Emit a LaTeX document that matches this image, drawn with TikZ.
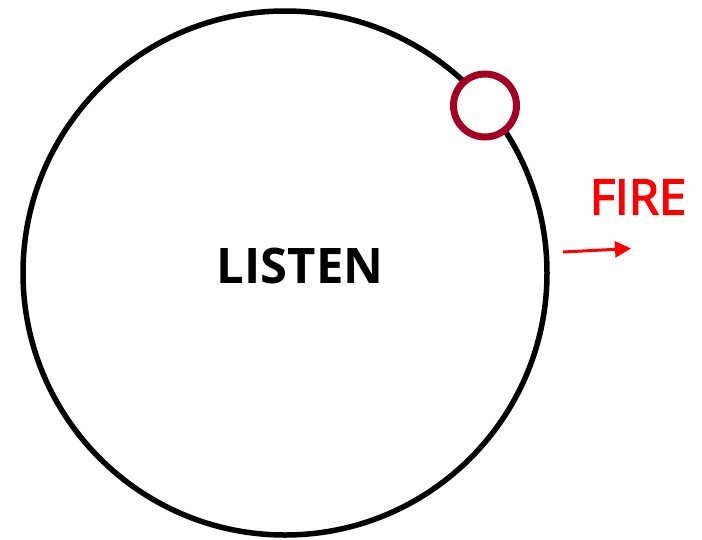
\documentclass[tikz,border=0pt]{standalone}
\usepackage{fontspec}
\setmainfont{Open Sans}
\newfontfamily\firefont[FakeBold=3]{Open Sans}
\usetikzlibrary{arrows.meta}
\definecolor{ringred}{HTML}{A50021}
\definecolor{firered}{HTML}{FF0000}
\tikzset{
  bigring/.style={draw=black, line width=5.5pt, circle, minimum size=524pt, inner sep=0pt},
  smallring/.style={draw=ringred, fill=white, line width=7pt, circle, minimum size=63pt, inner sep=0pt},
  firearrow/.style={draw=firered, line width=3pt, -{Triangle[length=16pt,width=16pt]}}
}
\begin{document}
\begin{tikzpicture}[x=1pt,y=-1pt]
\useasboundingbox (0,0) rectangle (702,539);
\node[bigring] (big) at (285,273) {};
\node[smallring] (small) at (485,105.5) {};
\node[font=\fontsize{49}{49}\selectfont\bfseries] (listen) at (300,266) {LISTEN};
\node[font=\fontsize{49}{49}\firefont, text=firered] (fire) at (638,197) {FIRE};
\coordinate (a0) at (563,252);
\coordinate (a1) at (631,248.5);
\draw[firearrow] (a0) -- (a1);
\end{tikzpicture}
\end{document}
